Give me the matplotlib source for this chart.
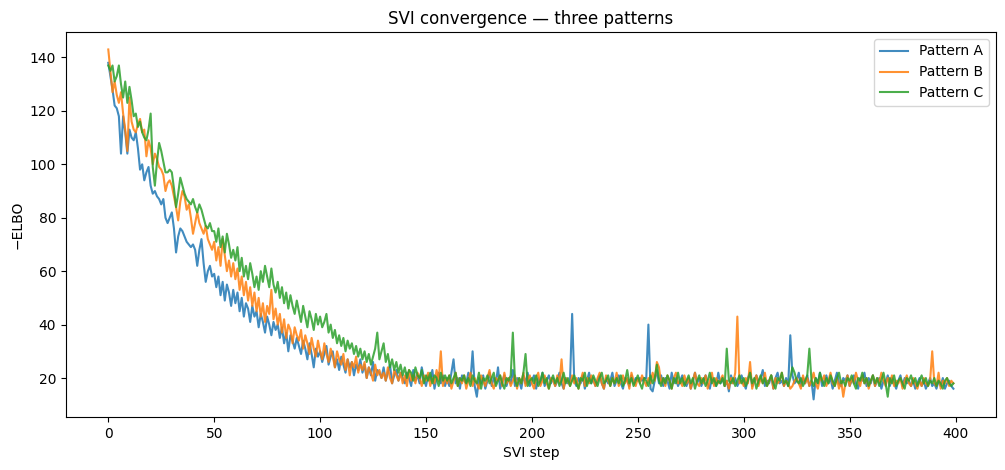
import matplotlib
matplotlib.use("Agg")
import matplotlib.pyplot as plt
import numpy as np

# -ELBO per SVI step
pattern_a = [
    138, 133, 128, 122, 121, 118, 104, 118, 112, 104,
    113, 110, 109, 112, 106, 98, 100, 94, 97, 99,
    92, 89, 90, 88, 87, 85, 87, 80, 78, 80,
    82, 76, 67, 73, 76, 75, 73, 71, 70, 69,
    70, 68, 62, 68, 72, 63, 56, 60, 62, 58,
    59, 54, 58, 51, 56, 49, 55, 52, 47, 53,
    48, 52, 45, 50, 43, 48, 46, 41, 47, 43,
    45, 39, 44, 41, 37, 43, 40, 36, 41, 38,
    40, 35, 39, 33, 37, 30, 36, 34, 31, 35,
    32, 29, 34, 31, 27, 33, 29, 24, 31, 28,
    30, 26, 29, 32, 25, 28, 30, 24, 27, 23,
    28, 25, 22, 27, 24, 26, 21, 25, 23, 27,
    22, 25, 20, 24, 21, 26, 19, 23, 22, 20,
    24, 19, 22, 25, 18, 21, 23, 19, 22, 20,
    18, 22, 20, 17, 23, 19, 21, 18, 24, 20,
    17, 21, 19, 23, 16, 20, 22, 18, 21, 17,
    20, 17, 22, 27, 18, 20, 16, 21, 19, 18,
    22, 19, 30, 17, 13, 20, 18, 21, 16, 19,
    22, 17, 20, 18, 24, 16, 19, 21, 17, 20,
    18, 23, 17, 20, 19, 16, 21, 18, 22, 17,
    19, 21, 16, 20, 18, 22, 17, 19, 21, 18,
    20, 17, 19, 22, 18, 16, 20, 18, 19, 44,
    19, 17, 20, 18, 21, 16, 19, 22, 18, 20,
    17, 19, 21, 18, 16, 20, 18, 19, 22, 17,
    19, 21, 18, 16, 20, 19, 17, 21, 18, 20,
    19, 20, 19, 20, 20, 40, 16, 15, 19, 23,
    18, 21, 17, 20, 19, 16, 22, 18, 20, 17,
    19, 21, 18, 17, 20, 16, 19, 22, 18, 20,
    17, 19, 21, 18, 16, 20, 19, 17, 22, 18,
    20, 17, 19, 15, 21, 18, 20, 17, 19, 21,
    18, 16, 20, 22, 17, 19, 21, 18, 20, 23,
    17, 19, 18, 21, 16, 20, 22, 18, 19, 17,
    20, 17, 36, 21, 18, 19, 22, 17, 20, 18,
    21, 17, 19, 12, 20, 18, 22, 17, 19, 21,
    18, 20, 16, 19, 22, 18, 17, 20, 19, 21,
    17, 19, 21, 18, 16, 20, 19, 22, 17, 20,
    18, 21, 17, 19, 20, 16, 19, 18, 21, 17,
    20, 18, 16, 19, 21, 17, 20, 18, 19, 17,
    19, 16, 18, 20, 17, 19, 16, 18, 20, 17,
    18, 16, 19, 17, 20, 16, 18, 19, 17, 16,
]

pattern_b = [
    143, 135, 127, 131, 126, 123, 127, 119, 113, 105,
    125, 116, 113, 112, 115, 117, 112, 113, 103, 109,
    106, 100, 104, 102, 99, 98, 96, 90, 93, 94,
    92, 88, 84, 79, 86, 90, 88, 83, 85, 80,
    74, 78, 82, 78, 76, 74, 77, 72, 70, 68,
    71, 64, 69, 62, 72, 66, 60, 64, 58, 63,
    57, 61, 53, 58, 51, 56, 49, 54, 47, 52,
    45, 50, 43, 48, 41, 47, 44, 53, 42, 46,
    40, 44, 37, 42, 35, 40, 38, 33, 39, 36,
    34, 38, 31, 36, 33, 29, 35, 31, 28, 34,
    30, 27, 33, 29, 26, 31, 28, 24, 30, 27,
    25, 29, 23, 27, 21, 26, 24, 28, 22, 25,
    23, 26, 20, 24, 22, 19, 25, 21, 23, 20,
    22, 19, 24, 20, 18, 23, 21, 19, 22, 18,
    21, 17, 23, 19, 21, 18, 22, 20, 17, 21,
    19, 22, 17, 20, 18, 23, 19, 30, 17, 20,
    18, 21, 16, 19, 22, 17, 20, 18, 21, 16,
    19, 22, 17, 20, 18, 16, 21, 19, 17, 20,
    23, 18, 16, 20, 19, 21, 17, 22, 18, 20,
    17, 19, 21, 16, 20, 18, 22, 17, 19, 21,
    18, 16, 20, 22, 17, 19, 21, 18, 16, 20,
    19, 17, 21, 18, 27, 16, 20, 19, 17, 21,
    18, 20, 16, 19, 22, 17, 20, 18, 21, 19,
    17, 20, 22, 18, 16, 21, 19, 17, 20, 18,
    22, 17, 19, 21, 18, 20, 16, 22, 19, 17,
    20, 18, 21, 19, 17, 20, 18, 22, 19, 26,
    24, 18, 20, 17, 21, 19, 16, 20, 22, 18,
    19, 17, 21, 18, 20, 16, 19, 22, 18, 17,
    20, 18, 21, 16, 19, 22, 17, 20, 18, 19,
    21, 17, 19, 16, 20, 18, 22, 43, 18, 19,
    17, 20, 18, 26, 16, 19, 21, 17, 20, 18,
    22, 17, 19, 21, 16, 20, 18, 19, 22, 17,
    19, 18, 16, 17, 19, 20, 18, 16, 21, 18,
    20, 17, 19, 22, 18, 16, 20, 19, 21, 17,
    19, 22, 18, 17, 20, 16, 19, 13, 18, 21,
    17, 20, 18, 22, 19, 17, 21, 18, 20, 16,
    19, 21, 17, 20, 18, 22, 19, 17, 20, 18,
    21, 17, 19, 18, 20, 16, 19, 21, 18, 17,
    20, 18, 16, 19, 17, 20, 18, 17, 19, 30,
    18, 17, 22, 16, 19, 18, 20, 17, 19, 18,
]

pattern_c = [
    137, 135, 137, 131, 133, 137, 130, 125, 131, 123,
    129, 124, 118, 119, 114, 116, 112, 110, 109, 113,
    119, 99, 92, 101, 108, 105, 101, 97, 97, 98,
    97, 91, 84, 89, 95, 92, 89, 87, 86, 85,
    87, 84, 82, 85, 83, 80, 77, 76, 78, 75,
    75, 71, 76, 69, 73, 67, 74, 70, 65, 68,
    64, 69, 60, 65, 58, 62, 57, 63, 59, 54,
    58, 53, 60, 56, 62, 58, 54, 61, 55, 52,
    56, 50, 54, 48, 52, 46, 51, 47, 44, 49,
    45, 41, 47, 43, 39, 45, 42, 38, 44, 40,
    43, 39, 41, 44, 37, 40, 35, 38, 33, 36,
    32, 35, 30, 34, 31, 33, 29, 32, 28, 31,
    27, 30, 26, 29, 25, 28, 31, 37, 27, 30,
    33, 26, 29, 24, 27, 23, 26, 22, 25, 21,
    24, 20, 23, 22, 19, 24, 21, 20, 23, 18,
    21, 19, 22, 18, 21, 20, 17, 22, 19, 21,
    19, 21, 18, 20, 22, 17, 20, 19, 21, 18,
    20, 17, 21, 19, 18, 22, 16, 20, 19, 21,
    18, 20, 22, 17, 19, 21, 18, 16, 20, 19,
    21, 37, 19, 17, 20, 18, 22, 29, 17, 19,
    20, 18, 21, 17, 19, 22, 18, 20, 16, 19,
    21, 18, 20, 17, 19, 22, 18, 20, 17, 19,
    21, 18, 16, 20, 19, 22, 17, 20, 18, 21,
    19, 17, 20, 22, 18, 19, 21, 17, 20, 18,
    20, 18, 21, 17, 19, 23, 18, 20, 17, 19,
    21, 18, 16, 20, 19, 17, 21, 18, 20, 25,
    19, 17, 20, 18, 21, 19, 16, 20, 18, 22,
    18, 20, 17, 19, 21, 18, 20, 16, 19, 21,
    18, 20, 17, 19, 22, 18, 20, 17, 19, 18,
    20, 17, 31, 19, 18, 20, 17, 19, 21, 18,
    20, 17, 19, 22, 18, 20, 16, 19, 21, 18,
    20, 17, 19, 21, 18, 16, 20, 19, 22, 18,
    19, 17, 20, 24, 22, 19, 18, 20, 17, 19,
    21, 31, 19, 17, 20, 18, 22, 19, 17, 20,
    18, 21, 19, 17, 20, 22, 18, 19, 17, 20,
    19, 21, 18, 16, 20, 19, 22, 18, 20, 17,
    19, 21, 18, 20, 17, 19, 22, 18, 13, 20,
    18, 21, 17, 19, 20, 18, 16, 20, 19, 21,
    18, 20, 17, 19, 21, 18, 20, 17, 19, 18,
    20, 17, 19, 18, 16, 19, 20, 18, 17, 18,
]

labels = ["Pattern A", "Pattern B", "Pattern C"]

fig = plt.figure(figsize=(10.05, 4.7), dpi=100)
ax = fig.add_axes([0.0657, 0.113, 0.925, 0.819])

for vals, lab in zip([pattern_a, pattern_b, pattern_c], labels):
    ax.plot(np.arange(len(vals)), vals, lw=1.5, alpha=0.85, label=lab)

ax.set_title("SVI convergence \u2014 three patterns")
ax.set_xlabel("SVI step")
ax.set_ylabel("\u2212ELBO")
ax.legend(loc="upper right")

fig.savefig("out.png", dpi=100)
